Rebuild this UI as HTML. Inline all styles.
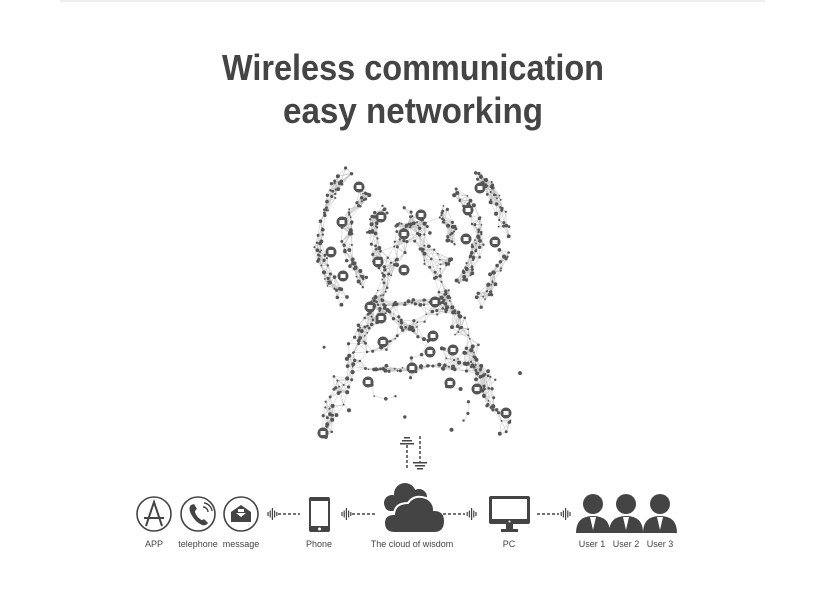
<!DOCTYPE html>
<html><head><meta charset="utf-8"><style>
html,body{margin:0;padding:0;background:#fff;width:823px;height:606px;overflow:hidden}
svg{display:block}
</style></head><body>
<svg id="s" width="823" height="606" viewBox="0 0 823 606" xmlns="http://www.w3.org/2000/svg" font-family="Liberation Sans, sans-serif">
<rect x="60" y="0" width="705" height="2" fill="#eeeeee"/>
<text x="413" y="80" text-anchor="middle" font-size="36" font-weight="bold" fill="#444" textLength="382" lengthAdjust="spacingAndGlyphs">Wireless communication</text>
<text x="413" y="123" text-anchor="middle" font-size="36" font-weight="bold" fill="#444" textLength="260" lengthAdjust="spacingAndGlyphs">easy networking</text>
<g id="net"></g>
<g stroke="#444" stroke-width="1.5" fill="none">
<line x1="407" y1="445" x2="407" y2="470" stroke-dasharray="3,2"/>
<line x1="420" y1="436" x2="420" y2="462" stroke-dasharray="3,2"/>
</g>
<g fill="#444">
<rect x="404" y="437" width="6" height="1.5"/><rect x="402" y="440" width="10" height="1.5"/><rect x="400" y="443" width="14" height="1.5"/>
<rect x="413" y="462" width="14" height="1.5"/><rect x="415" y="465" width="10" height="1.5"/><rect x="417" y="468" width="6" height="1.5"/>
</g>
<g stroke="#444" stroke-width="1.6" fill="none">
<circle cx="154" cy="514" r="17"/><circle cx="198" cy="514" r="17"/><circle cx="241" cy="514" r="17"/>
<path d="M146 526 L154 502 L162 526 M144 518 H164" stroke-width="2"/>
<path d="M203 507 a5 5 0 0 1 5 5 M204 503 a9 9 0 0 1 8 8" stroke-width="1.4"/>
</g>
<path d="M191 505 q-3 3 0 9 q4 8 11 11 q4 1 6-2 l-4-4 q-2 2-4 0 q-4-3-5-7 q0-2 2-3 l-3-5 z" fill="#444"/>
<path d="M231 512 l10-7 l10 7 v10 h-20 z" fill="#444"/>
<path d="M238 512 h6 v-3 h-6z M236 513 l5 4 l5-4z" fill="#fff"/>
<rect x="309" y="497" width="21" height="35" rx="2" fill="#444"/>
<rect x="311" y="501" width="17" height="25" fill="#fff"/>
<circle cx="319.5" cy="529" r="1.5" fill="#fff"/>
<!-- cloud -->
<g fill="#444">
<circle cx="392" cy="503" r="8"/><circle cx="405" cy="494" r="11"/><circle cx="419" cy="497" r="8"/><rect x="385" y="500" width="38" height="11" rx="5"/>
</g>
<g fill="#444" stroke="#fff" stroke-width="2">
<path d="M395 533 q-11 0-11-10 q0-9 10-9 q1-11 14-11 q6-9 18-5 q8 4 8 12 q11 0 11 11 q0 12-11 12 z"/>
</g>
<rect x="489" y="496" width="41" height="28" rx="2" fill="#444"/>
<rect x="492" y="499" width="35" height="20" fill="#fff"/>
<circle cx="509.5" cy="521.5" r="1" fill="#fff"/>
<rect x="506" y="524" width="7" height="5" fill="#444"/><rect x="501" y="529" width="17" height="3" fill="#444"/>
<g fill="#444" id="users"></g>
<g stroke="#444" stroke-width="1.4" stroke-dasharray="3,2" fill="none">
<line x1="278" y1="514" x2="300" y2="514"/>
<line x1="352" y1="514" x2="375" y2="514"/>
<line x1="443" y1="514" x2="465" y2="514"/>
<line x1="537" y1="514" x2="559" y2="514"/>
</g>
<g stroke="#444" stroke-width="1.2" id="waves"></g>
<g font-size="9" fill="#444" text-anchor="middle">
<text x="154" y="547">APP</text><text x="198" y="547">telephone</text><text x="241" y="547">message</text>
<text x="319" y="547">Phone</text><text x="412" y="547">The cloud of wisdom</text><text x="509" y="547">PC</text>
<text x="592" y="547">User 1</text><text x="626" y="547">User 2</text><text x="660" y="547">User 3</text>
</g>
</svg>
<script>
var NS="http://www.w3.org/2000/svg";
function el(p,t,a){var e=document.createElementNS(NS,t);for(var k in a)e.setAttribute(k,a[k]);p.appendChild(e);return e;}
var seed=11;function r(){seed=(seed*16807)%2147483647;return seed/2147483647;}
var net=document.getElementById('net');
var pts=[];
function seg(x1,y1,x2,y2,n,w){for(var i=0;i<n;i++){var t=r();pts.push([x1+(x2-x1)*t+(r()-.5)*w,y1+(y2-y1)*t+(r()-.5)*w]);}}
seg(412,215,322,432,110,16);seg(412,215,505,432,110,16);
seg(372,303,450,303,30,8);seg(348,368,478,368,40,8);
seg(372,303,470,368,30,9);seg(450,303,350,368,30,9);
seg(395,228,430,228,12,12);
function arc(cx,cy,R,a1,a2,n,w){for(var i=0;i<n;i++){var a=(a1+(a2-a1)*r())*Math.PI/180,rr=R+(r()-.5)*w;pts.push([cx+rr*Math.cos(a),cy+rr*Math.sin(a)]);}}
[[92,70],[66,55],[40,35]].forEach(function(q){arc(412,238,q[0],135,228,q[1],12);arc(412,238,q[0],-48,45,q[1],12);});
for(var i=0;i<20;i++){pts.push([305+r()*215,330+r()*100]);}
var g1=el(net,'g',{stroke:'#c4c4c4','stroke-width':'0.5'});
for(var i=0;i<pts.length;i++){var c=0;for(var j=i+1;j<pts.length&&c<6;j++){var dx=pts[i][0]-pts[j][0],dy=pts[i][1]-pts[j][1];if(dx*dx+dy*dy<220){el(g1,'line',{x1:pts[i][0],y1:pts[i][1],x2:pts[j][0],y2:pts[j][1]});c++;}}}
var g2=el(net,'g',{fill:'#555'});
pts.forEach(function(p){el(g2,'circle',{cx:p[0].toFixed(1),cy:p[1].toFixed(1),r:(0.8+r()*1.3).toFixed(2)});});
var big=[[404,234],[421,215],[404,270],[370,307],[435,302],[381,318],[383,342],[433,336],[412,368],[430,352],[368,382],[477,389],[323,433],[506,413],[342,222],[359,187],[331,252],[343,276],[381,217],[378,262],[466,239],[495,242],[468,210],[480,188],[453,350],[450,383]];
big.forEach(function(b){el(g2,'circle',{cx:b[0],cy:b[1],r:5.5});el(net,'rect',{x:b[0]-2.5,y:b[1]-2,width:5,height:4,fill:'#fff'});});
var u=document.getElementById('users');
[593,626,660].forEach(function(x){el(u,'circle',{cx:x,cy:504,r:10});el(u,'path',{d:'M'+(x-17)+' 533 q0-17 17-17 q17 0 17 17 z'});el(u,'path',{d:'M'+(x-3)+' 517 l3 13 l3-13 z',fill:'#fff'});});
var wv=document.getElementById('waves');
function wave(x,dir){var h=[4,7,12,7,4];for(var i=0;i<5;i++){var xx=x+dir*i*2.2;el(wv,'line',{x1:xx,y1:514-h[i]/2,x2:xx,y2:514+h[i]/2});}}
wave(268,1);wave(342,1);wave(476,-1);wave(570,-1);
</script>
</body></html>
